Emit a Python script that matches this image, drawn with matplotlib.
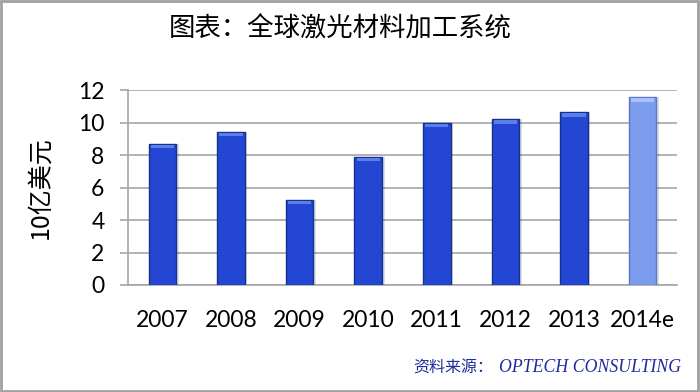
import matplotlib
matplotlib.use("Agg")
import matplotlib.pyplot as plt
from matplotlib.patches import Rectangle

# data
years = ["2007", "2008", "2009", "2010", "2011", "2012", "2013", "2014e"]
values = [8.7, 9.45, 5.25, 7.9, 10.0, 10.2, 10.65, 11.55]
bar_colors = ["#2347D3"] * 7 + ["#7C9CEE"]
edge_colors = ["#17318F"] * 7 + ["#5A78C8"]

plt.rcParams['font.family'] = ['Lato', 'Noto Sans CJK SC', 'DejaVu Sans']

fig = plt.figure(figsize=(7, 3.92), dpi=100)
ax = fig.add_axes([0.183, 0.273, 0.784, 0.497])

x = range(len(years))
# soft shadow behind bars
ax.bar([i + 0.04 for i in x], values, width=0.4, color="#000000", alpha=0.12, zorder=2)
ax.bar(x, values, width=0.4, color=bar_colors, edgecolor=edge_colors, linewidth=1.0, zorder=3)
# lighter cap on top of each bar
for i, v in enumerate(values):
    cap = "#5A7FEA" if i < 7 else "#A9BFF5"
    ax.add_patch(Rectangle((i - 0.17, v - 0.28), 0.34, 0.22, color=cap, zorder=4, lw=0))

ax.set_ylim(0, 12)
ax.set_xlim(-0.5, len(years) - 0.5)
ax.set_yticks([0, 2, 4, 6, 8, 10, 12])
ax.set_xticks(list(x))
ax.set_xticklabels(years)
ax.grid(axis='y', color="#A6A6A6", linewidth=1.2, zorder=0)
ax.set_axisbelow(True)

for s in ["top", "right"]:
    ax.spines[s].set_visible(False)
ax.spines["left"].set_color("#A6A6A6")
ax.spines["bottom"].set_color("#A6A6A6")
ax.spines["left"].set_linewidth(1.2)
ax.spines["bottom"].set_linewidth(1.2)

ax.tick_params(axis='y', length=6, width=1.2, color="#A6A6A6", pad=11, labelsize=16.5)
ax.tick_params(axis='x', length=0, pad=18, labelsize=16.5)

ax.set_ylabel("10亿美元", fontsize=18, labelpad=18,
              family=['Noto Sans CJK SC', 'DejaVu Sans'])

fig.text(0.486, 0.925, "图表：全球激光材料加工系统", ha='center', va='center',
         fontsize=19, family=['Noto Sans CJK SC', 'DejaVu Sans'])

fig.text(0.591, 0.063, "资料来源：", ha='left', va='center', fontsize=11.5,
         color="#1F2A9E", family=['Noto Sans CJK SC', 'DejaVu Sans'])
fig.text(0.973, 0.063, "OPTECH CONSULTING", ha='right', va='center', fontsize=12.8,
         color="#1F2A9E", family='Liberation Serif', style='italic')

# figure border
fig.patches.append(Rectangle((0.002, 0.003), 0.995, 0.994, transform=fig.transFigure,
                             fill=False, edgecolor="#A0A0A0", linewidth=2))

fig.savefig("out.png", dpi=100)
